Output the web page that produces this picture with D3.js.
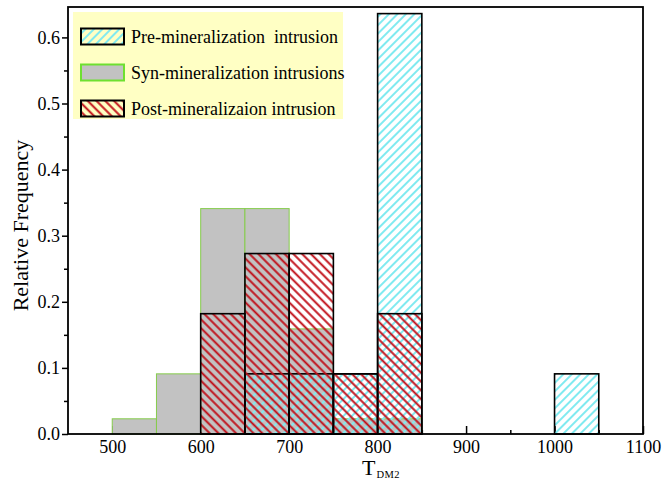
<!DOCTYPE html>
<html>
<head>
<meta charset="utf-8">
<script src="https://cdn.jsdelivr.net/npm/d3@7"></script>
<style>
  body { margin: 0; background: #fff; }
  text { font-family: "Liberation Serif", "Times New Roman", serif; fill: #000; }
</style>
</head>
<body>
<svg id="chart" width="667" height="481"></svg>
<script>
// histogram of T_DM2 ages, 50 Ma bins
const binStarts = [500, 550, 600, 650, 700, 750, 800, 850, 900, 950, 1000];
const binWidth = 50;
const preValues  = [0, 0, 0, 0.091, 0.091, 0.091, 0.636, 0, 0, 0, 0.091];
const synValues  = [0.023, 0.091, 0.341, 0.341, 0.159, 0.023, 0.023, 0, 0, 0, 0];
const postValues = [0, 0, 0.182, 0.273, 0.273, 0.091, 0.182, 0, 0, 0, 0];

const xTicks = [500, 600, 700, 800, 900, 1000, 1100];
const xMinor = [550, 650, 750, 850, 950, 1050];
const yTicks = [0, 0.1, 0.2, 0.3, 0.4, 0.5, 0.6];
const yMinor = [0.05, 0.15, 0.25, 0.35, 0.45, 0.55];

const legendLabels = ["Pre-mineralization\u00a0 intrusion", "Syn-mineralization intrusions", "Post-mineralizaion intrusion"];

const mLeft = 68, mRight = 643, mTop = 7, mBottom = 434;

const svg = d3.select("#chart");
const x = d3.scaleLinear().domain([450, 1100]).range([mLeft, mRight]);
const y = d3.scaleLinear().domain([0, 0.646]).range([mBottom, mTop]);

const defs = svg.append("defs");
function hatch(id, color, angle, gap, w) {
  const p = defs.append("pattern")
    .attr("id", id)
    .attr("patternUnits", "userSpaceOnUse")
    .attr("width", gap).attr("height", gap)
    .attr("patternTransform", `rotate(${angle})`);
  p.append("line")
    .attr("x1", gap / 2).attr("y1", 0).attr("x2", gap / 2).attr("y2", gap)
    .attr("stroke", color).attr("stroke-width", w);
}
hatch("cyanHatch", "#80eaf0", 45, 6, 2);
hatch("redHatch", "#c00c16", -45, 6.2, 1.9);

// ticks first so bars cover them
const yAxis = d3.axisLeft(y).tickValues(yTicks).tickFormat(d3.format(".1f")).tickSize(6).tickPadding(2);
const gy = svg.append("g").attr("transform", `translate(${mLeft},0)`).call(yAxis);
gy.select(".domain").remove();
gy.selectAll("text").style("font-size", "18px").style("font-family", "Liberation Serif, serif");
gy.selectAll("line").attr("stroke-width", 1.5);
const gyMinor = svg.append("g").attr("transform", `translate(${mLeft},0)`)
  .call(d3.axisLeft(y).tickValues(yMinor).tickFormat("").tickSize(4));
gyMinor.select(".domain").remove();
gyMinor.selectAll("line").attr("stroke-width", 1.5);

const xAxis = d3.axisBottom(x).tickValues(xTicks).tickFormat(d3.format("d")).tickSize(-8).tickPadding(6);
const gx = svg.append("g").attr("transform", `translate(0,${mBottom})`).call(xAxis);
gx.select(".domain").remove();
gx.selectAll("text").style("font-size", "18px").style("font-family", "Liberation Serif, serif");
gx.selectAll("line").attr("stroke-width", 1.5);
const gxMinor = svg.append("g").attr("transform", `translate(0,${mBottom})`)
  .call(d3.axisBottom(x).tickValues(xMinor).tickFormat("").tickSize(-4));
gxMinor.select(".domain").remove();
gxMinor.selectAll("line").attr("stroke-width", 1.5);

// bars
function bars(values, cls, fill, stroke, sw) {
  svg.append("g").selectAll("rect")
    .data(binStarts.map((b, i) => ({ b, v: values[i] })).filter(d => d.v > 0))
    .join("rect")
    .attr("class", cls)
    .attr("x", d => x(d.b))
    .attr("width", d => x(d.b + binWidth) - x(d.b))
    .attr("y", d => y(d.v))
    .attr("height", d => y(0) - y(d.v))
    .attr("fill", fill)
    .attr("stroke", stroke)
    .attr("stroke-width", sw);
}
bars(synValues, "syn", "#c2c2c2", "#86cc4c", 1);
bars(preValues, "pre", "url(#cyanHatch)", "#000", 1.6);
bars(postValues, "post", "url(#redHatch)", "#000", 1.6);

// frame
svg.append("rect")
  .attr("x", mLeft).attr("y", mTop)
  .attr("width", mRight - mLeft).attr("height", mBottom - mTop)
  .attr("fill", "none").attr("stroke", "#000").attr("stroke-width", 1.8);

// legend
const lg = svg.append("g");
lg.append("rect").attr("x", 73).attr("y", 12).attr("width", 270).attr("height", 107).attr("fill", "#ffffc4");
const swFill = ["url(#cyanHatch)", "#c2c2c2", "url(#redHatch)"];
const swStroke = ["#000", "#6ee030", "#000"];
legendLabels.forEach((lab, i) => {
  const cy = 36.5 + i * 36;
  lg.append("rect").attr("x", 81).attr("y", cy - 8).attr("width", 43).attr("height", 16)
    .attr("fill", swFill[i]).attr("stroke", swStroke[i]).attr("stroke-width", 2);
  lg.append("text").attr("x", 131).attr("y", cy + 6.5).style("font-size", "18px").text(lab);
});

// axis titles
svg.append("text")
  .attr("transform", `translate(28,${(mTop + mBottom) / 2 + 5}) rotate(-90)`)
  .attr("text-anchor", "middle")
  .style("font-size", "22px")
  .text("Relative Frequency");

const xt = svg.append("text").attr("x", 362).attr("y", 475).style("font-size", "22px");
xt.append("tspan").text("T");
xt.append("tspan").attr("dx", 1).attr("dy", 3).style("font-size", "10.5px").style("letter-spacing", "0.5px").text("DM2");
</script>
</body>
</html>
